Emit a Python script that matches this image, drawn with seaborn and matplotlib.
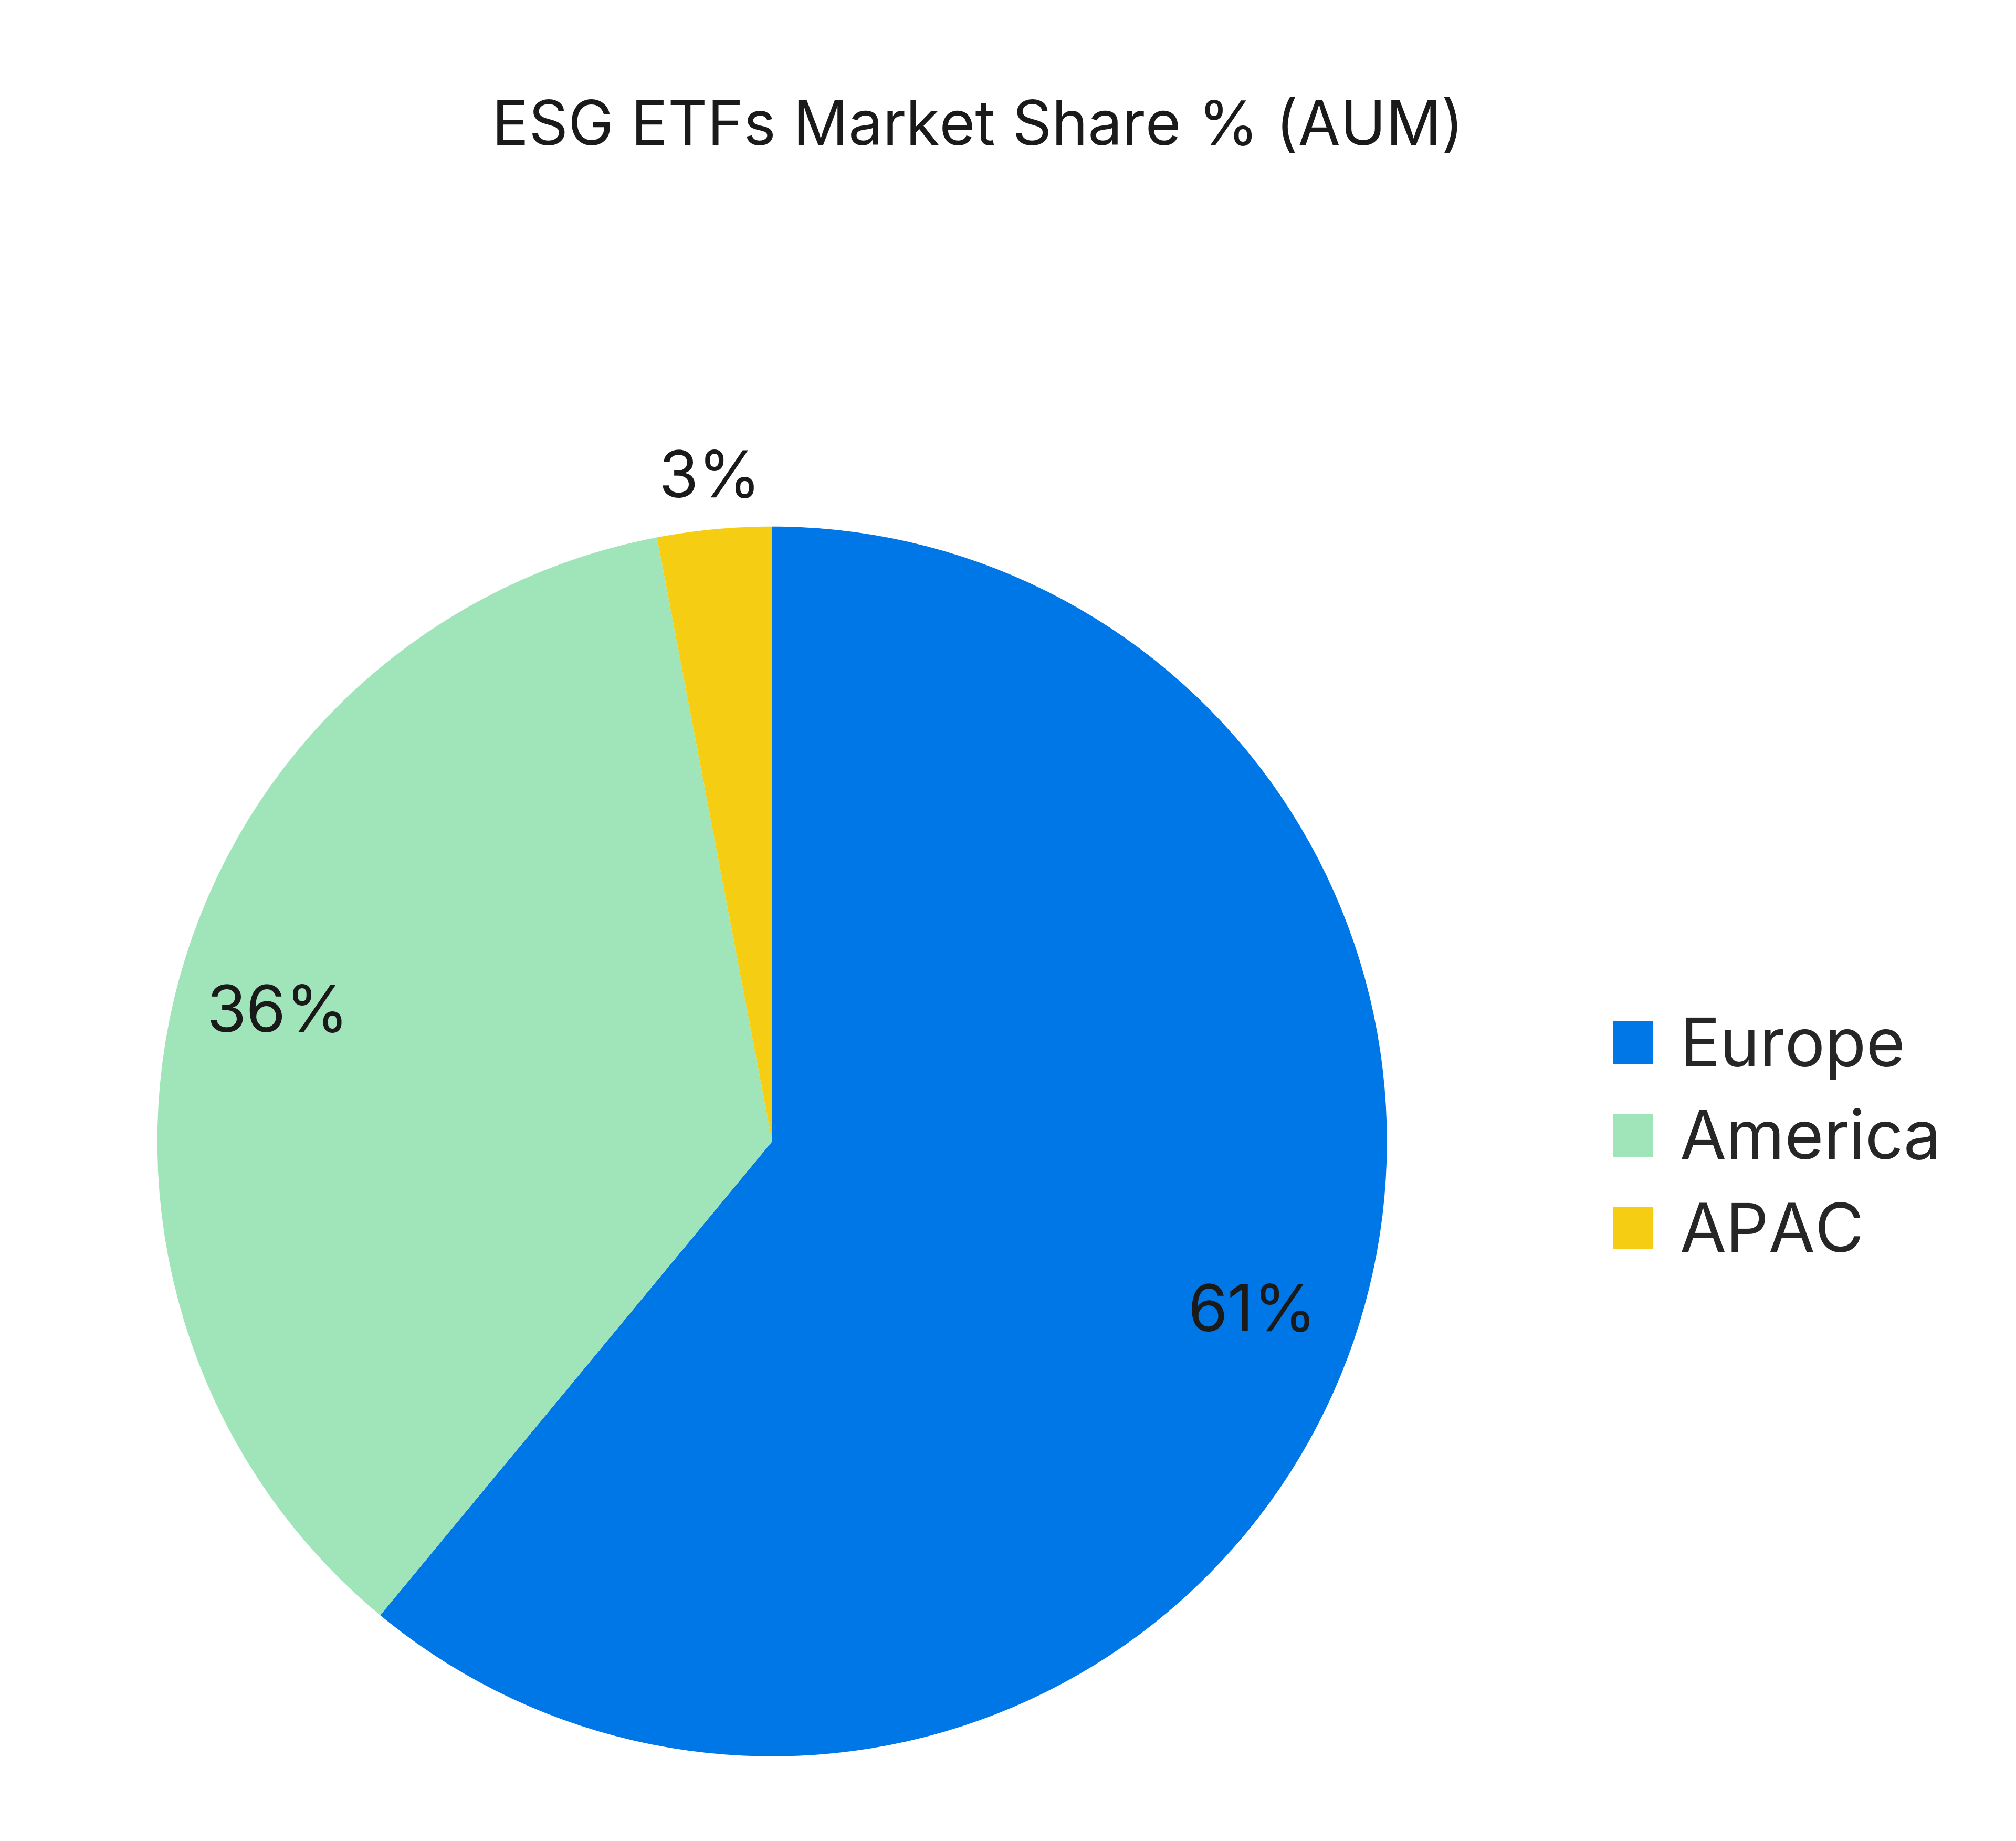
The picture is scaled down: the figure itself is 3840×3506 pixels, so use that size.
import matplotlib
matplotlib.use("Agg")
import matplotlib.pyplot as plt
import seaborn as sns
import numpy as np

regions = ["Europe", "America", "APAC"]
shares = [61, 36, 3]
colors = ["#0077E6", "#A0E5B9", "#F5CE14"]

sns.set_theme(style="white")
plt.rcParams['font.family'] = ['Inter', 'DejaVu Sans']

fig = plt.figure(figsize=(19.2, 17.53), dpi=200)
ax = fig.add_axes([0.077, 0.046, 0.612, 0.668])
wedges, texts, autotexts = ax.pie(
    shares, colors=sns.color_palette(colors), startangle=90, counterclock=False,
    autopct='%d%%', pctdistance=0.83, wedgeprops={'linewidth': 0},
    textprops={'fontsize': 44, 'color': '#1a1a1a'})
w = wedges[2]
ang = np.deg2rad((w.theta1 + w.theta2) / 2)
autotexts[2].set_position((1.08 * np.cos(ang), 1.08 * np.sin(ang)))
ax.set_xlim(-1, 1)
ax.set_ylim(-1, 1)
ax.set_aspect('equal')

fig.text(0.485, 0.93, "ESG ETFs Market Share % (AUM)", ha='center', va='center',
         fontsize=42, color='#1a1a1a')
fig.legend(wedges, regions, loc='center left', bbox_to_anchor=(0.77, 0.38),
           frameon=False, fontsize=46, handlelength=0.6, handleheight=0.6,
           handletextpad=0.4, labelspacing=0.45)
fig.savefig("out.png", dpi=200)
